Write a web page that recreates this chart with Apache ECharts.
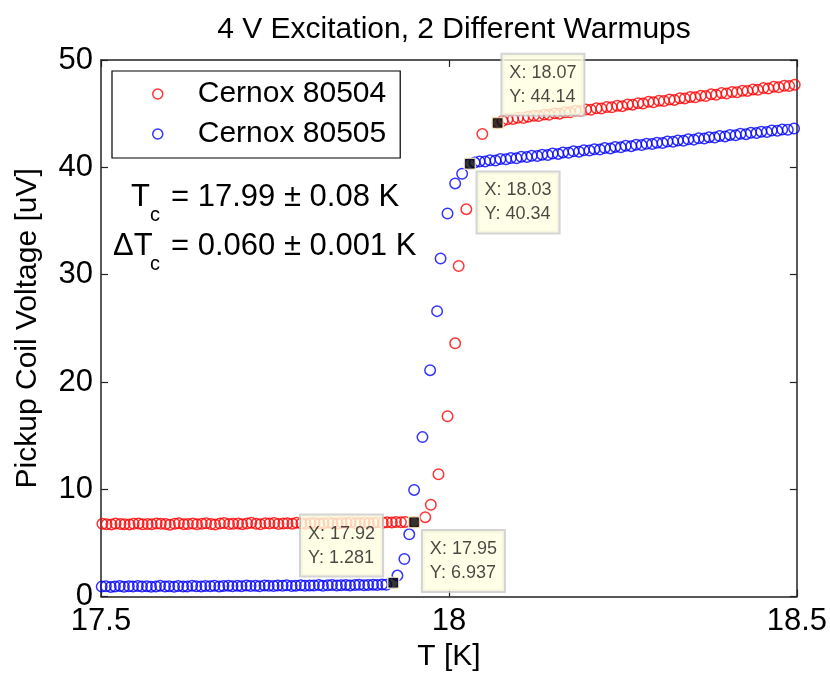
<!DOCTYPE html>
<html><head><meta charset="utf-8">
<script src="https://cdn.jsdelivr.net/npm/echarts@6/dist/echarts.min.js"></script>
<style>html,body{margin:0;padding:0;background:#fff}#c{width:830px;height:677px}</style>
</head><body><div id="c"></div>
<script>
// ---------- data ----------
const titleText = '4 V Excitation, 2 Different Warmups';
const xName = 'T [K]';
const yName = 'Pickup Coil Voltage [uV]';
const seriesNames = ['Cernox 80504', 'Cernox 80505'];
const xRange = [17.5, 18.5, 0.5];
const yRange = [0, 50, 10];

const redT = [
  17.502, 17.508, 17.515, 17.521, 17.528, 17.534, 17.541, 17.547, 17.554, 17.560,
  17.567, 17.573, 17.580, 17.586, 17.593, 17.599, 17.606, 17.612, 17.619, 17.625,
  17.632, 17.638, 17.645, 17.651, 17.658, 17.664, 17.671, 17.677, 17.684, 17.690,
  17.697, 17.703, 17.710, 17.716, 17.723, 17.729, 17.736, 17.742, 17.749, 17.755,
  17.762, 17.768, 17.775, 17.781, 17.788, 17.794, 17.801, 17.807, 17.814, 17.820,
  17.827, 17.833, 17.840, 17.846, 17.853, 17.859, 17.866, 17.872, 17.879, 17.885,
  17.892, 17.898, 17.905, 17.911, 17.918, 17.924, 17.931, 17.937,
  17.950, 17.966, 17.974, 17.985, 17.998, 18.009, 18.014, 18.025, 18.048, 18.070,
  18.077, 18.084, 18.092, 18.099, 18.107, 18.114, 18.122, 18.129, 18.137, 18.144,
  18.152, 18.159, 18.167, 18.174, 18.182, 18.189, 18.197, 18.204, 18.212, 18.219,
  18.227, 18.234, 18.242, 18.249, 18.257, 18.264, 18.272, 18.279, 18.287, 18.294,
  18.302, 18.309, 18.317, 18.324, 18.332, 18.339, 18.347, 18.354, 18.362, 18.369,
  18.377, 18.384, 18.392, 18.399, 18.407, 18.414, 18.422, 18.429, 18.437, 18.444,
  18.452, 18.459, 18.467, 18.474, 18.482, 18.489, 18.497
];
const redV = [
  6.78, 6.74, 6.72, 6.80, 6.77, 6.75, 6.71, 6.79, 6.82, 6.74,
  6.77, 6.73, 6.81, 6.78, 6.76, 6.70, 6.79, 6.84, 6.75, 6.77,
  6.81, 6.74, 6.78, 6.83, 6.76, 6.72, 6.80, 6.85, 6.77, 6.79,
  6.82, 6.75, 6.81, 6.88, 6.78, 6.74, 6.83, 6.80, 6.86, 6.77,
  6.81, 6.84, 6.79, 6.89, 6.82, 6.78, 6.85, 6.87, 6.80, 6.83,
  6.90, 6.84, 6.81, 6.88, 6.86, 6.92, 6.83, 6.87, 6.91, 6.85,
  6.89, 6.94, 6.88, 6.92, 6.90, 6.95, 6.93, 6.96,
  6.937, 7.40, 8.56, 11.4, 16.8, 23.6, 30.8, 36.1, 43.1, 44.14,
  44.32, 44.48, 44.50, 44.62, 44.60, 44.72, 44.80, 44.78, 44.92, 44.90,
  45.04, 45.00, 45.14, 45.12, 45.28, 45.25, 45.38, 45.36, 45.50, 45.48,
  45.62, 45.60, 45.74, 45.70, 45.86, 45.84, 45.98, 45.94, 46.10, 46.06,
  46.20, 46.18, 46.32, 46.28, 46.44, 46.42, 46.56, 46.52, 46.68, 46.64,
  46.80, 46.76, 46.92, 46.88, 47.02, 47.00, 47.14, 47.12, 47.26, 47.22,
  47.38, 47.34, 47.50, 47.46, 47.60, 47.58, 47.70
];

const blueT = [
  17.501, 17.507, 17.514, 17.520, 17.527, 17.533, 17.540, 17.546, 17.553, 17.559,
  17.566, 17.572, 17.579, 17.585, 17.592, 17.598, 17.605, 17.611, 17.618, 17.624,
  17.631, 17.637, 17.644, 17.650, 17.657, 17.663, 17.670, 17.676, 17.683, 17.689,
  17.696, 17.702, 17.709, 17.715, 17.722, 17.728, 17.735, 17.741, 17.748, 17.754,
  17.761, 17.767, 17.774, 17.780, 17.787, 17.793, 17.800, 17.806, 17.813, 17.819,
  17.826, 17.832, 17.839, 17.845, 17.852, 17.858, 17.865, 17.871, 17.878, 17.884,
  17.891, 17.897, 17.904, 17.910, 17.920,
  17.926, 17.936, 17.943, 17.950, 17.962, 17.973, 17.983, 17.988, 17.998, 18.009,
  18.019, 18.030,
  18.037, 18.044, 18.052, 18.059, 18.067, 18.074, 18.082, 18.089, 18.097, 18.104,
  18.112, 18.119, 18.127, 18.134, 18.142, 18.149, 18.157, 18.164, 18.172, 18.179,
  18.187, 18.194, 18.202, 18.209, 18.217, 18.224, 18.232, 18.239, 18.247, 18.254,
  18.262, 18.269, 18.277, 18.284, 18.292, 18.299, 18.307, 18.314, 18.322, 18.329,
  18.337, 18.344, 18.352, 18.359, 18.367, 18.374, 18.382, 18.389, 18.397, 18.404,
  18.412, 18.419, 18.427, 18.434, 18.442, 18.449, 18.457, 18.464, 18.472, 18.479,
  18.487, 18.496
];
const blueV = [
  0.93, 0.96, 0.90, 0.95, 0.98, 0.92, 0.96, 0.94, 0.99, 0.93,
  0.97, 0.91, 0.95, 1.00, 0.94, 0.97, 0.92, 0.98, 0.95, 0.93,
  1.00, 0.96, 0.94, 0.99, 0.97, 1.01, 0.95, 0.98, 1.02, 0.96,
  1.00, 0.97, 1.03, 0.99, 1.01, 0.96, 1.04, 1.00, 0.98, 1.03,
  1.01, 1.05, 0.99, 1.02, 1.06, 1.00, 1.04, 1.03, 1.07, 1.01,
  1.05, 1.08, 1.03, 1.06, 1.09, 1.04, 1.07, 1.10, 1.06, 1.09,
  1.11, 1.08, 1.13, 1.10, 1.281,
  1.96, 3.5, 5.8, 9.94, 14.86, 21.1, 26.6, 31.5, 35.7, 38.5,
  39.4, 40.34,
  40.44, 40.55, 40.54, 40.66, 40.64, 40.77, 40.75, 40.87, 40.85, 40.98,
  40.95, 41.08, 41.05, 41.18, 41.15, 41.28, 41.25, 41.39, 41.36, 41.49,
  41.46, 41.59, 41.56, 41.69, 41.66, 41.79, 41.76, 41.90, 41.86, 42.00,
  41.97, 42.10, 42.07, 42.20, 42.17, 42.30, 42.27, 42.41, 42.38, 42.51,
  42.48, 42.61, 42.58, 42.71, 42.68, 42.81, 42.78, 42.92, 42.88, 43.02,
  42.99, 43.12, 43.09, 43.22, 43.19, 43.32, 43.29, 43.43, 43.40, 43.52,
  43.50, 43.62
];

// data tips (MATLAB data cursors)
const tipT = [18.07, 18.03, 17.92, 17.95];
const tipV = [44.14, 40.34, 1.281, 6.937];

// annotation text
const tcLine = ['T', 'c', '= 17.99 \u00b1 0.08 K'];
const dtcLine = ['\u0394T', 'c', '= 0.060 \u00b1 0.001 K'];

// ---------- layout / style ----------
const FONT = '"Liberation Sans", Arial, Helvetica, sans-serif';
const grid = { left: 101, top: 60, right: 32, bottom: 74 };
const tipOffsets = [[11, -62], [14, 15], [-86, -61], [15, 15]];
const axisColor = '#222';

function zip(a, b) { return a.map((v, i) => [v, b[i]]); }

const chart = echarts.init(document.getElementById('c'), null, { renderer: 'canvas' });

const baseX = {
  type: 'value', min: xRange[0], max: xRange[1], interval: xRange[2],
  axisLine: { show: true, onZero: false, lineStyle: { color: axisColor, width: 1.5 } },
  axisTick: { show: true, inside: true, length: 7, lineStyle: { color: axisColor, width: 1.2 } },
  splitLine: { show: false }
};
const baseY = {
  type: 'value', min: yRange[0], max: yRange[1], interval: yRange[2],
  axisLine: { show: true, onZero: false, lineStyle: { color: axisColor, width: 1.5 } },
  axisTick: { show: true, inside: true, length: 7, lineStyle: { color: axisColor, width: 1.2 } },
  splitLine: { show: false }
};

const circleStyle = (c) => ({ color: 'transparent', borderColor: c, borderWidth: 1.5 });
const txt = (t, x, y, size) => ({
  type: 'text', z: 50,
  style: { text: t, x: x, y: y, font: size + 'px ' + FONT, fill: '#000',
           textAlign: 'left', textVerticalAlign: 'middle', align: 'left', verticalAlign: 'middle' }
});

chart.setOption({
  animation: false,
  backgroundColor: '#fff',
  title: {
    text: titleText, left: 449, top: 10, textAlign: 'center',
    textStyle: { fontFamily: FONT, fontSize: 30, fontWeight: 'normal', color: '#000', lineHeight: 30 }
  },
  grid: grid,
  xAxis: [
    Object.assign({}, baseX, {
      position: 'bottom', name: xName, nameLocation: 'middle', nameGap: 43,
      nameTextStyle: { fontFamily: FONT, fontSize: 30, color: '#000', lineHeight: 30 },
      axisLabel: { fontFamily: FONT, fontSize: 31, color: '#000', margin: 10, lineHeight: 30 }
    }),
    Object.assign({}, baseX, { position: 'top', axisLabel: { show: false } })
  ],
  yAxis: [
    Object.assign({}, baseY, {
      position: 'left', name: yName, nameLocation: 'middle', nameGap: 58,
      nameTextStyle: { fontFamily: FONT, fontSize: 30, color: '#000', lineHeight: 30 },
      axisLabel: { fontFamily: FONT, fontSize: 31, color: '#000', margin: 8 }
    }),
    Object.assign({}, baseY, { position: 'right', axisLabel: { show: false } })
  ],
  legend: {
    orient: 'vertical', left: 112, top: 71,
    padding: [8, 14, 9, 40], itemWidth: 70, itemHeight: 10, itemGap: 10,
    backgroundColor: '#fff', borderColor: '#000', borderWidth: 1.2, borderRadius: 0,
    textStyle: { fontFamily: FONT, fontSize: 30, color: '#000', lineHeight: 30 },
    data: [
      { name: seriesNames[0], icon: 'circle', itemStyle: circleStyle('#ff0000') },
      { name: seriesNames[1], icon: 'circle', itemStyle: circleStyle('#0000ff') }
    ]
  },
  graphic: [
    txt(tcLine[0], 131, 197, 31), txt(tcLine[1], 150, 215, 20), txt(tcLine[2], 171, 197, 31),
    txt(dtcLine[0], 113, 246, 31), txt(dtcLine[1], 150, 264, 20), txt(dtcLine[2], 171, 246, 31)
  ],
  series: [
    {
      name: seriesNames[0], type: 'scatter', xAxisIndex: 0, yAxisIndex: 0,
      symbol: 'circle', symbolSize: 10.5, data: zip(redT, redV),
      itemStyle: circleStyle('#ff0000'), emphasis: { disabled: true }, z: 3
    },
    {
      name: seriesNames[1], type: 'scatter', xAxisIndex: 0, yAxisIndex: 0,
      symbol: 'circle', symbolSize: 10.5, data: zip(blueT, blueV),
      itemStyle: circleStyle('#0000ff'), emphasis: { disabled: true }, z: 3
    },
    {
      name: 'tips', type: 'scatter', xAxisIndex: 0, yAxisIndex: 0,
      symbol: 'rect', symbolSize: 11, z: 20,
      itemStyle: { color: '#000', borderColor: '#fbf6c8', borderWidth: 1.5 },
      emphasis: { disabled: true },
      data: tipT.map((t, i) => ({ value: [t, tipV[i]], label: { position: tipOffsets[i] } })),
      label: {
        show: true,
        formatter: (p) => 'X: ' + p.value[0].toPrecision(4) + '\nY: ' + p.value[1].toPrecision(4),
        fontFamily: FONT, fontSize: 18, lineHeight: 24, color: '#1a1a1a',
        backgroundColor: '#ffffe1', borderColor: '#c9c9c9', borderWidth: 2,
        padding: [6, 7, 6, 7], align: 'left', verticalAlign: 'top'
      }
    }
  ]
});
</script>
</body></html>
